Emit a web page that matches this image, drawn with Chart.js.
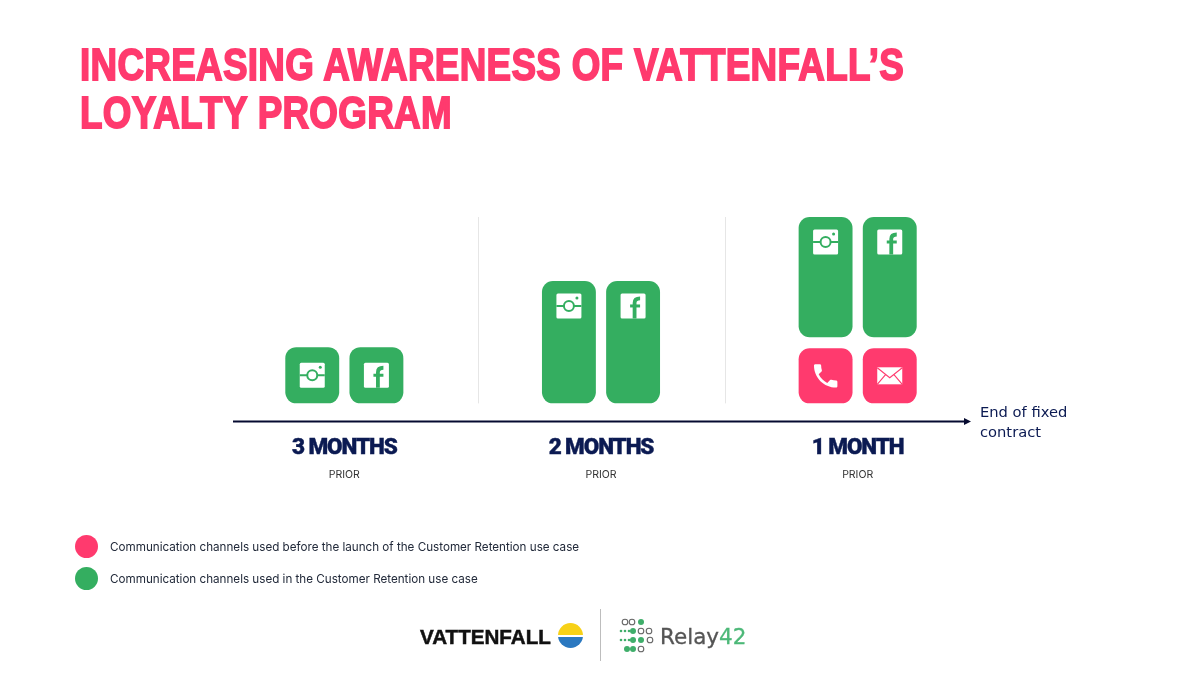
<!DOCTYPE html>
<html>
<head>
<meta charset="utf-8">
<title>Increasing awareness of Vattenfall's loyalty program</title>
<script src="https://cdn.jsdelivr.net/npm/chart.js@4"></script>
<style>
  html, body { margin: 0; background: #fff; }
  #wrap { position: relative; width: 1200px; height: 675px; overflow: hidden; }
  #chart { position: absolute; left: 0; top: 0; }
  .abs { position: absolute; white-space: nowrap; }
  #title {
    left: 80px; top: 41px; color: #ff3a6e;
    font: bold 45px/48px "Liberation Sans", sans-serif;
    -webkit-text-stroke: 1.8px #ff3a6e; letter-spacing: 0.4px;
    transform: scaleX(0.817); transform-origin: left top;
  }
  #endlabel { left: 980px; top: 402px; color: #0b1a52; font: 14.7px/20px "DejaVu Sans", sans-serif; }
  .dot { width: 23px; height: 23px; border-radius: 50%; left: 75px; }
  .legtext { left: 110px; color: #222a3a; font: 11.65px/14px Inter, sans-serif; }
  #vf { left: 420px; top: 625px; color: #111; font: bold 20.6px/23px "Liberation Sans", sans-serif; -webkit-text-stroke: 0.5px #111; }
  #vfsun { left: 558px; top: 623px; width: 25px; height: 25px; border-radius: 50%;
    background: linear-gradient(#f7d117 0, #f7d117 49%, #fff 49%, #fff 54%, #2a78c0 54%); }
  #sep { left: 600px; top: 609px; width: 1px; height: 52px; background: #bdbdbd; }
  #relay { left: 660px; top: 623px; color: #555; font: 21.5px/28px "DejaVu Sans", sans-serif; -webkit-text-stroke: 0.3px; }
  #relay span { color: #4cb878; }
</style>
</head>
<body>
<div id="wrap">
  <canvas id="chart" width="1200" height="675"></canvas>
  <div id="title" class="abs">INCREASING AWARENESS OF VATTENFALL’S<br>LOYALTY PROGRAM</div>
  <div id="endlabel" class="abs">End of fixed<br>contract</div>
  <div class="abs dot" style="top:535px;background:#ff3a6e"></div>
  <div class="abs legtext" style="top:540px">Communication channels used before the launch of the Customer Retention use case</div>
  <div class="abs dot" style="top:567px;background:#34ae60"></div>
  <div class="abs legtext" style="top:572px">Communication channels used in the Customer Retention use case</div>
  <div id="vf" class="abs">VATTENFALL</div>
  <div id="vfsun" class="abs"></div>
  <div id="sep" class="abs"></div>
  <svg class="abs" style="left:615px;top:615px" width="45" height="42" id="relaydots"></svg>
  <div id="relay" class="abs">Relay<span>42</span></div>
</div>
<script>
// ==== DATA ====
const categories = ['3 MONTHS', '2 MONTHS', '1 MONTH'];
const priorLabels = ['PRIOR', 'PRIOR', 'PRIOR'];
// floating bars, [start, end] in relative height
const instagram = [[0, 1.02], [0, 2.22], [1.2, 3.38]];
const facebook = [[0, 1.02], [0, 2.22], [1.2, 3.38]];
const phone = [null, null, [0, 1]];
const email = [null, null, [0, 1]];

const GREEN = '#34ae60';
const PINK = '#ff3a6e';
const NAVY = '#0b1a52';

// logo dots (decoration, not data)
(function () {
  const small = [[6,16],[10,16],[14,16],[6,25],[10,25],[14,25]];
  const big = [[26,7],[18,16],[18,25],[26,25],[12,34],[18,34]];
  const open = [[10,7],[17,7],[26,16],[34,16],[35,25],[26,34]];
  let s = '';
  small.forEach(p => { s += `<circle cx="${p[0]}" cy="${p[1]}" r="1.3" fill="#3fae6a"/>`; });
  big.forEach(p => { s += `<circle cx="${p[0]}" cy="${p[1]}" r="3" fill="#3fae6a"/>`; });
  open.forEach(p => { s += `<circle cx="${p[0]}" cy="${p[1]}" r="2.8" fill="none" stroke="#666" stroke-width="1.1"/>`; });
  document.getElementById('relaydots').innerHTML = s;
})();

const phonePath = new Path2D('M6.62 10.79c1.44 2.83 3.76 5.14 6.59 6.59l2.2-2.2c.27-.27.67-.36 1.02-.24 1.12.37 2.33.57 3.57.57.55 0 1 .45 1 1V20c0 .55-.45 1-1 1-9.39 0-17-7.61-17-17 0-.55.45-1 1-1h3.5c.55 0 1 .45 1 1 0 1.25.2 2.45.57 3.57.11.35.03.74-.25 1.02l-2.2 2.2z');

function drawInstagram(ctx, x, y, color) {
  ctx.fillStyle = '#fff';
  ctx.beginPath(); ctx.roundRect(x - 12.5, y - 12.5, 25, 25, 1.5); ctx.fill();
  ctx.strokeStyle = color; ctx.lineWidth = 2;
  ctx.beginPath(); ctx.arc(x, y, 5, 0, Math.PI * 2); ctx.stroke();
  ctx.beginPath();
  ctx.moveTo(x - 12.5, y); ctx.lineTo(x - 5, y);
  ctx.moveTo(x + 5, y); ctx.lineTo(x + 12.5, y);
  ctx.stroke();
  ctx.fillStyle = color;
  ctx.beginPath(); ctx.arc(x + 8, y - 8, 1.5, 0, Math.PI * 2); ctx.fill();
}

function drawFacebook(ctx, x, y, color) {
  ctx.fillStyle = '#fff';
  ctx.beginPath(); ctx.roundRect(x - 12.5, y - 12.5, 25, 25, 1.5); ctx.fill();
  // the f, cut out of the square and running to its bottom edge
  ctx.strokeStyle = color; ctx.lineWidth = 3.8;
  ctx.beginPath();
  ctx.moveTo(x + 1.5, y + 12.5);
  ctx.lineTo(x + 1.5, y - 3);
  ctx.quadraticCurveTo(x + 1.5, y - 7.5, x + 7, y - 7.5);
  ctx.stroke();
  ctx.lineWidth = 3;
  ctx.beginPath(); ctx.moveTo(x - 3, y); ctx.lineTo(x + 7, y); ctx.stroke();
}

function drawPhone(ctx, x, y) {
  ctx.save();
  ctx.translate(x - 15.5, y - 15.5);
  ctx.scale(1.3, 1.3);
  ctx.fillStyle = '#fff';
  ctx.fill(phonePath);
  ctx.restore();
}

function drawEmail(ctx, x, y, color) {
  ctx.fillStyle = '#fff';
  ctx.fillRect(x - 12.5, y - 8.5, 25, 17);
  ctx.strokeStyle = color; ctx.lineWidth = 1.1;
  ctx.beginPath();
  ctx.moveTo(x - 12.5, y - 8); ctx.lineTo(x, y + 2); ctx.lineTo(x + 12.5, y - 8);
  ctx.moveTo(x - 12.5, y + 8.5); ctx.lineTo(x - 4, y - 1.5);
  ctx.moveTo(x + 12.5, y + 8.5); ctx.lineTo(x + 4, y - 1.5);
  ctx.stroke();
}

// icons on the bars, dividers and the timeline arrow
const slideExtras = {
  id: 'slideExtras',
  beforeDraw(chart) {
    // tight tracking for the heavy x labels, reset before the PRIOR axis draws
    chart.ctx.letterSpacing = '-1.1px';
  },
  beforeDatasetsDraw(chart) {
    const { ctx, scales: { x, y } } = chart;
    ctx.letterSpacing = '0px';
    ctx.save();
    ctx.strokeStyle = '#e6e6e6'; ctx.lineWidth = 1;
    [0.52, 1.483].forEach(v => {
      const px = Math.round(x.getPixelForValue(v)) + 0.5;
      ctx.beginPath(); ctx.moveTo(px, y.top); ctx.lineTo(px, y.getPixelForValue(0)); ctx.stroke();
    });
    ctx.restore();
  },
  afterDatasetsDraw(chart) {
    const { ctx, scales: { x, y } } = chart;
    ctx.save();
    chart.data.datasets.forEach((ds, i) => {
      chart.getDatasetMeta(i).data.forEach((bar, j) => {
        if (!ds.data[j]) return;
        const h = bar.base - bar.y;
        const cx = bar.x, cy = h < 70 ? bar.y + h / 2 : bar.y + 25;
        if (ds.label === 'Instagram') drawInstagram(ctx, cx, cy, GREEN);
        if (ds.label === 'Facebook') drawFacebook(ctx, cx, cy, GREEN);
        if (ds.label === 'Phone') drawPhone(ctx, cx, cy);
        if (ds.label === 'Email') drawEmail(ctx, cx, cy, PINK);
      });
    });
    // timeline
    const ay = y.bottom;
    ctx.strokeStyle = '#050a30'; ctx.fillStyle = '#050a30'; ctx.lineWidth = 2;
    ctx.beginPath(); ctx.moveTo(x.left + 17, ay); ctx.lineTo(x.right - 20, ay); ctx.stroke();
    ctx.beginPath();
    ctx.moveTo(x.right - 15, ay); ctx.lineTo(x.right - 22, ay - 3.5); ctx.lineTo(x.right - 22, ay + 3.5);
    ctx.closePath(); ctx.fill();
    ctx.restore();
  }
};

function barSet(label, data, color, stack) {
  return {
    label, data, stack,
    backgroundColor: color,
    borderRadius: 11,
    borderSkipped: false,
    categoryPercentage: 0.5,
    barPercentage: 0.84,
    xAxisID: 'x'
  };
}

new Chart(document.getElementById('chart').getContext('2d'), {
  type: 'bar',
  data: {
    labels: categories,
    datasets: [
      barSet('Instagram', instagram, GREEN, 'left'),
      barSet('Facebook', facebook, GREEN, 'right'),
      barSet('Phone', phone, PINK, 'left'),
      barSet('Email', email, PINK, 'right')
    ]
  },
  options: {
    responsive: false,
    animation: false,
    layout: { padding: { left: 216, right: 214, top: 217, bottom: 188 } },
    plugins: { legend: { display: false }, tooltip: { enabled: false } },
    scales: {
      x: {
        stacked: true,
        grid: { display: false, drawTicks: false },
        border: { display: false },
        afterFit(scale) { scale.height = 41; },
        ticks: {
          padding: 16, color: NAVY, z: 0,
          font: { family: 'Roboto, sans-serif', size: 22.5, weight: '900', lineHeight: 1 },
          textStrokeColor: NAVY, textStrokeWidth: 0.4
        }
      },
      x2: {
        type: 'category',
        labels: priorLabels,
        position: 'bottom',
        grid: { display: false, drawTicks: false },
        border: { display: false },
        ticks: { padding: 6, color: '#333', z: 1, font: { family: 'Inter, sans-serif', size: 10.5 } }
      },
      y: { display: false, stacked: false, min: -0.327, max: 3.38 }
    }
  },
  plugins: [slideExtras]
});
</script>
</body>
</html>
